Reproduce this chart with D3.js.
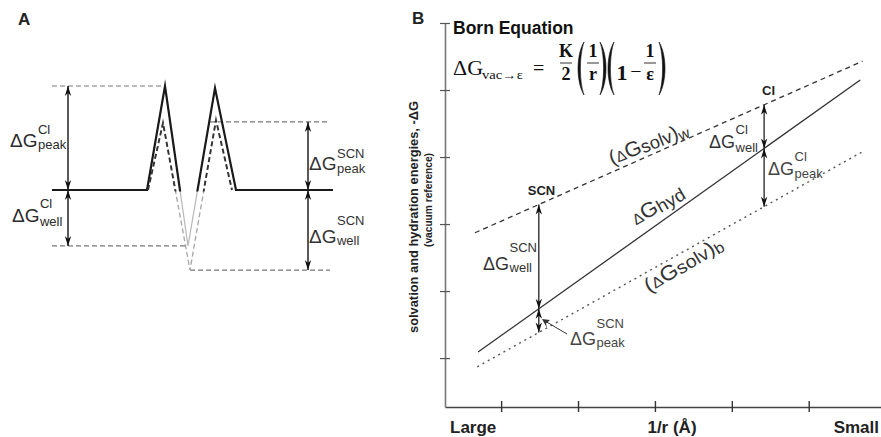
<!DOCTYPE html>
<html><head><meta charset="utf-8">
<script src="https://cdn.jsdelivr.net/npm/d3@7"></script>
<style>body{margin:0;background:#fff}svg{display:block}</style>
</head><body>
<svg id="c" width="881" height="437"></svg>
<script>
// ---------- Panel A data (reaction coordinate, energy relative to bulk) ----------
const clX  = [0, 9.5, 11.3, 13.6, 16.3, 18.4, 28.1];
const clE  = [0, 0, 4.0, -2.15, 3.92, 0, 0];
const scnX = [9.6, 11.1, 13.8, 16.4, 18.0];
const scnE = [0, 2.58, -3.08, 2.69, 0];
const levelNames = ["Cl peak", "Cl well", "SCN peak", "SCN well"];
const levelE  = [4.0, -2.15, 2.62, -3.08];
const levelX0 = [0, 0, 15.8, 13.8];
const levelX1 = [11.3, 13.6, 27.8, 27.8];
const levelArrowX = [1.6, 1.6, 25.6, 25.6];

// ---------- Panel B data ----------
const xTicks = [1, 2, 3, 4, 5];
const yTicks = [1, 2, 3, 4, 5, 6];
const xLabels = ["Large", "1/r (Å)", "Small"];
const lineNames = ["solvW", "hyd", "solvB"];
const lineX = [[0.66, 5.70], [0.70, 5.67], [0.69, 5.70]];
const lineY = [[2.87, 5.43], [1.09, 5.15], [0.87, 4.08]];
const ionNames = ["SCN", "Cl"];
const ionX = [1.49, 4.42];

const sans = "Liberation Sans, Arial, sans-serif";
const serif = "Liberation Serif, Times New Roman, serif";
const svg = d3.select("#c");

// ================= PANEL A =================
const xA = d3.scaleLinear().domain([0, 28.1]).range([52, 333]);
const yA = d3.scaleLinear().domain([0, 4]).range([190, 86]);
svg.append("defs").append("clipPath").attr("id", "above")
  .append("rect").attr("x", 0).attr("y", 0).attr("width", 420).attr("height", yA(0) + 1.6);

const gA = svg.append("g");
const lineA = d3.line().x(d => xA(d[0])).y(d => yA(d[1]));
const clPts = clX.map((x, i) => [x, clE[i]]);
const scnPts = scnX.map((x, i) => [x, scnE[i]]);

levelE.forEach((e, i) => {
  gA.append("line").attr("x1", xA(levelX0[i])).attr("x2", xA(levelX1[i]))
    .attr("y1", yA(e)).attr("y2", yA(e))
    .attr("stroke", "#7a7a7a").attr("stroke-width", 1.2).attr("stroke-dasharray", "5,3");
});
gA.append("path").attr("d", lineA(clPts)).attr("fill", "none")
  .attr("stroke", "#b8b8b8").attr("stroke-width", 1.2);
gA.append("path").attr("d", lineA(scnPts)).attr("fill", "none")
  .attr("stroke", "#a5a5a5").attr("stroke-width", 1.3).attr("stroke-dasharray", "5,3");
gA.append("path").attr("d", lineA(clPts)).attr("fill", "none").attr("clip-path", "url(#above)")
  .attr("stroke", "#1a1a1a").attr("stroke-width", 2.2).attr("stroke-linejoin", "miter").attr("stroke-miterlimit", 12);
gA.append("path").attr("d", lineA(scnPts)).attr("fill", "none").attr("clip-path", "url(#above)")
  .attr("stroke", "#333").attr("stroke-width", 1.9).attr("stroke-dasharray", "5,3").attr("stroke-miterlimit", 12);

function head(g, x, y, dir, w, len) {
  w = w || 3.2; len = len || 10;
  g.append("path")
    .attr("d", `M${x},${y} L${x + w},${y - dir * len} L${x},${y - dir * len * 0.7} L${x - w},${y - dir * len} Z`)
    .attr("fill", "#111");
}
function dblArrow(g, x, y1, y2, sw) {
  g.append("line").attr("x1", x).attr("x2", x).attr("y1", y1).attr("y2", y2)
    .attr("stroke", "#222").attr("stroke-width", sw || 1.4);
  const top = Math.min(y1, y2), bot = Math.max(y1, y2);
  head(g, x, top, -1); head(g, x, bot, 1);
}
levelE.forEach((e, i) => dblArrow(gA, xA(levelArrowX[i]), yA(e), yA(0), 1.5));

function dgLabel(g, x, y, sup, sub, big, small, supDy, subDy, color) {
  const t = g.append("text").attr("x", x).attr("y", y).attr("font-family", sans)
    .attr("font-size", big).attr("fill", color).text("ΔG");
  const w = t.node().getComputedTextLength();
  g.append("text").attr("x", x + w + 0.5).attr("y", y + supDy).attr("font-family", sans)
    .attr("font-size", small).attr("fill", color).text(sup);
  g.append("text").attr("x", x + w + 0.5).attr("y", y + subDy).attr("font-family", sans)
    .attr("font-size", small).attr("fill", color).text(sub);
}
dgLabel(gA, 10, 147, "Cl", "peak", 19, 13, -13, 2, "#2a2a2a");
dgLabel(gA, 12, 222, "Cl", "well", 19, 13, -14, 4, "#2a2a2a");
dgLabel(gA, 309, 170, "SCN", "peak", 19, 13, -12, 3, "#333");
dgLabel(gA, 309, 243, "SCN", "well", 19, 13, -18, 2, "#333");

svg.append("text").attr("x", 18).attr("y", 25).attr("font-family", sans).attr("font-weight", "bold")
  .attr("font-size", 17).attr("fill", "#222").text("A");
svg.append("text").attr("x", 412).attr("y", 24).attr("font-family", sans).attr("font-weight", "bold")
  .attr("font-size", 17).attr("fill", "#222").text("B");

// ================= PANEL B =================
const xB = d3.scaleLinear().domain([0.27, 5.94]).range([445, 881]);
const yB = d3.scaleLinear().domain([0.27, 6]).range([407, 23]);
const gB = svg.append("g");

const xAx = gB.append("g").attr("transform", `translate(0,${yB(0.27)})`)
  .call(d3.axisBottom(xB).tickValues(xTicks).tickFormat("").tickSizeOuter(0));
xAx.selectAll(".tick line").attr("y1", -6).attr("y2", 5).attr("stroke", "#333").attr("stroke-width", 1.4);
xAx.select(".domain").attr("stroke", "#444").attr("stroke-width", 1.6);
const yAx = gB.append("g").attr("transform", `translate(${xB(0.27)},0)`)
  .call(d3.axisLeft(yB).tickValues(yTicks).tickFormat("").tickSizeOuter(0));
yAx.selectAll(".tick line").attr("x1", -5).attr("x2", 5).attr("stroke", "#555").attr("stroke-width", 1.2);
yAx.select(".domain").attr("stroke", "#777").attr("stroke-width", 1.6);

const xLabPos = [[450, "start"], [672, "middle"], [879, "end"]];
xLabels.forEach((s, i) => gB.append("text").attr("x", xLabPos[i][0]).attr("y", 433)
  .attr("text-anchor", xLabPos[i][1]).attr("font-family", sans).attr("font-weight", "bold")
  .attr("font-size", 17).attr("fill", "#222").text(s));

gB.append("text").attr("transform", "translate(418,217) rotate(-90)").attr("text-anchor", "middle")
  .attr("font-family", sans).attr("font-weight", "bold").attr("font-size", 12).attr("fill", "#222")
  .attr("textLength", 232).attr("lengthAdjust", "spacingAndGlyphs")
  .text("solvation and hydration energies, -ΔG");
gB.append("text").attr("transform", "translate(432,200) rotate(-90)").attr("text-anchor", "middle")
  .attr("font-family", sans).attr("font-weight", "bold").attr("font-size", 11.5).attr("fill", "#222")
  .attr("textLength", 94).attr("lengthAdjust", "spacingAndGlyphs")
  .text("(vacuum reference)");

const lineStyles = [
  { dash: "5,4", color: "#333", w: 1.3 },
  { dash: null, color: "#333", w: 1.3 },
  { dash: "2,4", color: "#555", w: 1.4 }
];
const lineB = d3.line().x(d => xB(d[0])).y(d => yB(d[1]));
lineNames.forEach((n, i) => {
  const p = gB.append("path").attr("d", lineB(lineX[i].map((x, j) => [x, lineY[i][j]])))
    .attr("fill", "none").attr("stroke", lineStyles[i].color).attr("stroke-width", lineStyles[i].w);
  if (lineStyles[i].dash) p.attr("stroke-dasharray", lineStyles[i].dash);
});
function yOn(i, v) {
  const t = (v - lineX[i][0]) / (lineX[i][1] - lineX[i][0]);
  return yB(lineY[i][0] + t * (lineY[i][1] - lineY[i][0]));
}
function angOf(i) {
  return Math.atan2(yB(lineY[i][1]) - yB(lineY[i][0]), xB(lineX[i][1]) - xB(lineX[i][0])) * 180 / Math.PI;
}

ionX.forEach((v, k) => {
  const x = xB(v);
  dblArrow(gB, x, yOn(0, v), yOn(1, v), 1.3);
  dblArrow(gB, x, yOn(1, v), yOn(2, v), 1.3);
});
gB.append("text").attr("x", xB(ionX[0]) - 11).attr("y", 195).attr("font-family", sans).attr("font-weight", "bold")
  .attr("font-size", 13).attr("fill", "#222").text("SCN");
gB.append("text").attr("x", xB(ionX[1]) - 2).attr("y", 95).attr("font-family", sans).attr("font-weight", "bold")
  .attr("font-size", 13).attr("fill", "#222").text("Cl");

gB.append("line").attr("x1", 567).attr("y1", 334).attr("x2", 545).attr("y2", 321)
  .attr("stroke", "#333").attr("stroke-width", 1);
gB.append("path").attr("d", "M542,319 L550,320 L546,323.5 L547,328 Z").attr("fill", "#333");

dgLabel(gB, 483, 270, "SCN", "well", 18, 13, -18, 2, "#333");
dgLabel(gB, 570, 345, "SCN", "peak", 18, 13, -17, 2, "#444");
dgLabel(gB, 709, 148, "Cl", "well", 18, 13, -14, 4, "#333");
dgLabel(gB, 768, 175, "Cl", "peak", 18, 13, -14, 3, "#444");

function lineLabel(i, xpx, off, angAdj, parts, len) {
  const v = xB.invert(xpx);
  const a = angOf(i) + angAdj;
  const t = gB.append("text")
    .attr("transform", `translate(${xpx},${yOn(i, v) + off}) rotate(${a})`)
    .attr("font-family", sans).attr("fill", "#333");
  if (len) t.attr("textLength", len).attr("lengthAdjust", "spacingAndGlyphs");
  parts.forEach(p => t.append("tspan").attr("font-size", p.s).attr("dy", p.dy || 0).text(p.t));
}
lineLabel(0, 612, -7, 2, [
  { t: "(", s: 20 }, { t: "Δ", s: 15 }, { t: "G", s: 21 }, { t: "solv", s: 18, dy: 1 },
  { t: ")", s: 20, dy: -1 }, { t: "w", s: 15, dy: 3 }], 84);
lineLabel(1, 636, -14, 5, [
  { t: "Δ", s: 15 }, { t: "G", s: 21 }, { t: "hyd", s: 18, dy: 2 }], 58);
lineLabel(2, 649, 22, -2, [
  { t: "(", s: 20 }, { t: "Δ", s: 15 }, { t: "G", s: 21 }, { t: "solv", s: 18, dy: 1 },
  { t: ")", s: 20, dy: -1 }, { t: "b", s: 15, dy: 3 }], 88);

gB.append("text").attr("x", 453).attr("y", 34).attr("font-family", sans).attr("font-weight", "bold")
  .attr("font-size", 17.5).attr("fill", "#111").text("Born Equation");
const eq = gB.append("g").attr("font-family", serif).attr("fill", "#111");
eq.append("text").attr("x", 453).attr("y", 75).attr("font-size", 22).text("ΔG");
eq.append("text").attr("x", 482).attr("y", 79).attr("font-size", 12)
  .attr("textLength", 41).attr("lengthAdjust", "spacingAndGlyphs").text("vac→ε");
eq.append("text").attr("x", 533).attr("y", 75).attr("font-size", 20).text("=");
function frac(cx, num, den) {
  eq.append("text").attr("x", cx).attr("y", 57).attr("text-anchor", "middle").attr("font-size", 18).attr("font-weight", "bold").text(num);
  eq.append("line").attr("x1", cx - 6).attr("x2", cx + 6).attr("y1", 63).attr("y2", 63).attr("stroke", "#333").attr("stroke-width", 1);
  eq.append("text").attr("x", cx).attr("y", 80).attr("text-anchor", "middle").attr("font-size", 18).attr("font-weight", "bold").text(den);
}
function paren(x0, x1, open) {
  const a = open ? x1 : x0, b = open ? x0 : x1;
  const d = `M${a},42 C${b - (open ? 1 : -1)},55 ${b - (open ? 1 : -1)},82 ${a},95 C${b + (open ? 2.2 : -2.2)},82 ${b + (open ? 2.2 : -2.2)},55 ${a},42 Z`;
  eq.append("path").attr("d", d).attr("fill", "#111").attr("stroke", "#111").attr("stroke-width", 0.6);
}
frac(566, "K", "2");
paren(577, 584, true);
frac(593, "1", "r");
paren(600, 607, false);
paren(607, 614, true);
eq.append("text").attr("x", 622).attr("y", 80).attr("text-anchor", "middle").attr("font-size", 22).attr("font-weight", "bold").text("1");
eq.append("text").attr("x", 636).attr("y", 78).attr("text-anchor", "middle").attr("font-size", 20).text("−");
frac(650, "1", "ε");
paren(659, 666, false);
</script>
</body></html>
